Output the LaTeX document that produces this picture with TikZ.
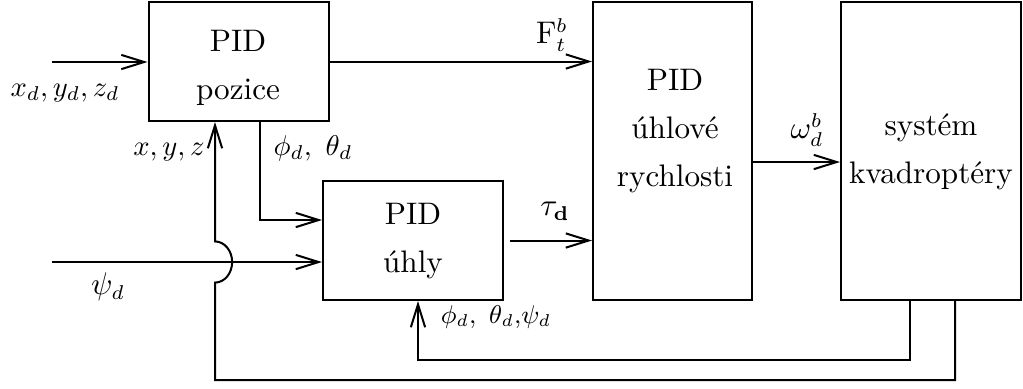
\documentclass[tikz,border=0pt]{standalone}
\usetikzlibrary{arrows.meta}
\begin{document}
\begin{tikzpicture}[x=0.35pt,y=-0.35pt, line width=0.7pt,
  >={Straight Barb[length=8pt,width=5pt]},
  blk/.style 2 args={draw, line width=0.7pt, inner sep=0pt,
    minimum width=#1*0.35pt, minimum height=#2*0.35pt},
  txt/.style={align=center, inner sep=0pt, font=\fontsize{10.9}{16.8}\selectfont},
  lbl/.style={inner sep=0pt, font=\fontsize{10.5}{12}\selectfont},
  mlbl/.style={inner sep=0pt, font=\fontsize{9.6}{12}\selectfont},
  slbl/.style={inner sep=0pt, font=\fontsize{8.6}{10}\selectfont}]
\useasboundingbox (0,0) rectangle (1023,388);
% blocks
\node[blk={180}{119}] (b1) at (238.5,61.5) {};
\node[blk={180}{119}] (b2) at (413,240.5) {};
\node[blk={159}{298}] (b3) at (672.5,151) {};
\node[blk={180}{298}] (b4) at (931,151) {};
\node[txt] (t1) at (238,68) {PID\\pozice};
\node[txt] (t2) at (413,241) {PID\\úhly};
\node[txt] (t3) at (675,131) {PID\\úhlové\\rychlosti};
\node[txt] (t4) at (931,152) {systém\\kvadroptéry};
% helper coordinates
\coordinate (in1) at (52,62);
\coordinate (in2) at (52,262);
\coordinate (c1) at (260,220);
\coordinate (w) at (0,162);
\coordinate (f1) at (910,360);
\coordinate (f1x) at (418,0);
\coordinate (f2) at (955,380);
\coordinate (j) at (215,262);
% connectors
\draw[->] (in1) -- (in1 -| b1.west);
\draw[->] (b1.east) -- (b1.east -| b3.west);
\draw[->] (b1.south -| c1) |- (c1 -| b2.west);
\draw[->] (in2) -- (in2 -| b2.west);
\draw[->] ([xshift=2.1pt]b2.east) -- (b2.east -| b3.west);
\draw[->] (b3.east |- w) -- (b4.west |- w);
\draw[->] (b4.south -| f1) -- (f1) -| (b2.south -| f1x);
\draw[->] (b4.south -| f2) -- (f2) -| ([yshift=-7.2pt]j)
  arc[start angle=-90, end angle=90, x radius=6pt, y radius=7.2pt]
  -- (b1.south -| j);
% labels
\node[mlbl] (l1) at (65,93) {$x_d,y_d,z_d$};
\node[lbl] (l2) at (552,35) {$\mathrm{F}_t^b$};
\node[mlbl] (l3) at (313,148) {$\phi_d,\ \theta_d$};
\node[mlbl] (l4) at (169,152) {$x,y,z$};
\node[lbl] (l5) at (108,287) {$\psi_d$};
\node[lbl] (l6) at (555,211) {$\tau_{\mathbf{d}}$};
\node[lbl] (l7) at (807,130) {$\omega_d^b$};
\node[slbl] (l8) at (496,317) {$\phi_d,\ \theta_d{,}\psi_d$};
\end{tikzpicture}
\end{document}
